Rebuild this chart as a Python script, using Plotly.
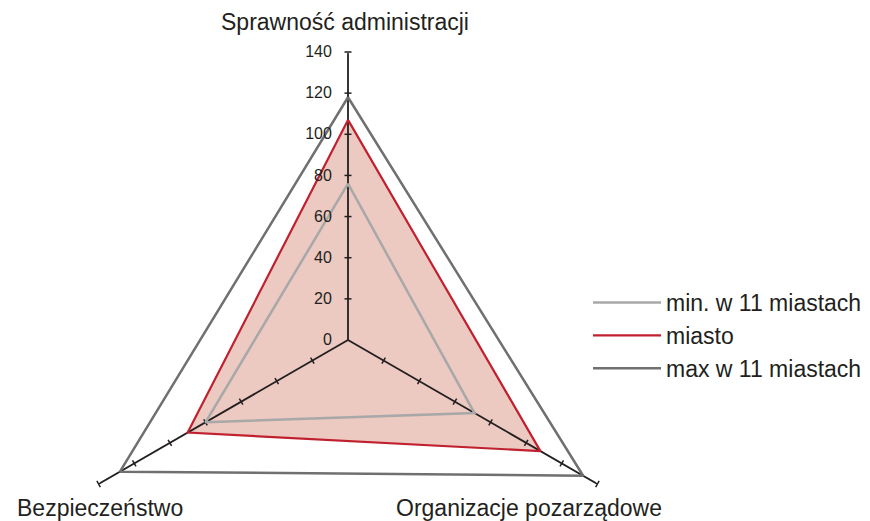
import plotly.graph_objects as go

categories = ["Sprawność administracji", "Organizacje pozarządowe", "Bezpieczeństwo"]
series_names = ["min. w 11 miastach", "miasto", "max w 11 miastach"]
min_vals = [76, 71, 80]
city_vals = [107, 108, 90]
max_vals = [118, 132, 128]
radial_ticks = [0, 20, 40, 60, 80, 100, 120, 140]

# page body has an 8px margin, so figure coords = screen coords - 8
W, H = 870, 640
CX, CY, R = 340, 332, 288
FONT = "Liberation Sans, Arial, sans-serif"
DARK = "#231f20"


def closed(v):
    return list(v) + [v[0]]


theta = closed(categories)
fig = go.Figure()

# filled area of the city
fig.add_trace(go.Scatterpolar(r=closed(city_vals), theta=theta, mode="lines", fill="toself",
                              fillcolor="#ecc9c1", line=dict(width=0, color="#ecc9c1"),
                              showlegend=False, hoverinfo="skip"))

# spokes
for c in categories:
    fig.add_trace(go.Scatterpolar(r=[radial_ticks[0], radial_ticks[-1]], theta=[c, c], mode="lines",
                                  line=dict(color=DARK, width=1.8), showlegend=False, hoverinfo="skip"))

# tick marks on spokes
tick_angle = {categories[0]: 0, categories[1]: -60, categories[2]: 60}
tr, tt, ta = [], [], []
for c in categories:
    for v in radial_ticks[1:]:
        tr.append(v)
        tt.append(c)
        ta.append(tick_angle[c])
fig.add_trace(go.Scatterpolar(r=tr, theta=tt, mode="markers",
                              marker=dict(symbol="line-ew", size=5, angle=ta,
                                          line=dict(color=DARK, width=1.5)),
                              showlegend=False, hoverinfo="skip", cliponaxis=False))

fig.add_trace(go.Scatterpolar(r=closed(max_vals), theta=theta, mode="lines", name=series_names[2],
                              line=dict(color="#707070", width=2.5), legendrank=3))
fig.add_trace(go.Scatterpolar(r=closed(city_vals), theta=theta, mode="lines", name=series_names[1],
                              line=dict(color="#c1202f", width=2.2), legendrank=2))
fig.add_trace(go.Scatterpolar(r=closed(min_vals), theta=theta, mode="lines", name=series_names[0],
                              line=dict(color="#a8a8a8", width=2.5), legendrank=1))

fig.update_layout(
    width=W, height=H,
    margin=dict(l=0, r=0, t=0, b=0),
    paper_bgcolor="white",
    font=dict(family=FONT, color=DARK, size=23),
    polar=dict(
        domain=dict(x=[(CX - R) / W, (CX + R) / W], y=[1 - (CY + R) / H, 1 - (CY - R) / H]),
        bgcolor="rgba(0,0,0,0)",
        gridshape="linear",
        radialaxis=dict(range=[0, 140], angle=90, tickvals=radial_ticks, showgrid=False,
                        showline=False, ticks="outside", ticklen=10, tickcolor="rgba(0,0,0,0)",
                        side="counterclockwise", tickangle=90,
                        tickfont=dict(size=16, color=DARK, family=FONT)),
        angularaxis=dict(type="category", categoryarray=categories, rotation=90, direction="clockwise",
                         showgrid=False, showline=False, showticklabels=False, ticks=""),
    ),
    legend=dict(x=580 / W, y=1 - 273 / H, xanchor="left", yanchor="top",
                font=dict(size=23, family=FONT, color=DARK), bgcolor="rgba(0,0,0,0)",
                itemwidth=68),
    showlegend=True,
)

label_pos = [(337, 14), (521, 500), (92, 500)]
for c, (x, y) in zip(categories, label_pos):
    fig.add_annotation(text=c, x=x / W, y=1 - y / H, xref="paper", yref="paper",
                       showarrow=False, xanchor="center", yanchor="middle",
                       font=dict(size=23, family=FONT, color=DARK))

fig.write_html("out.html")
